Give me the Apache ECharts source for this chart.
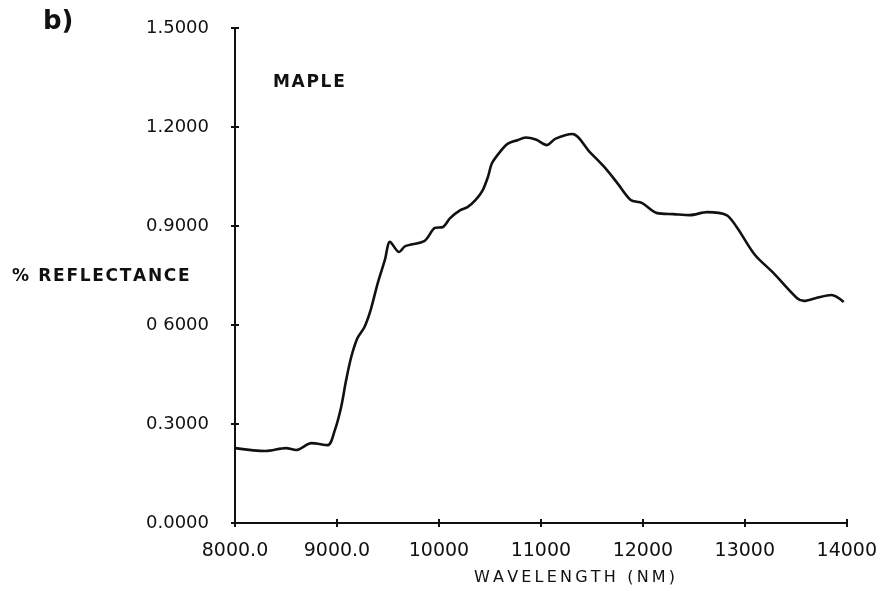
<!DOCTYPE html>
<html>
<head>
<meta charset="utf-8">
<script src="https://cdn.jsdelivr.net/npm/echarts@6/dist/echarts.min.js"></script>
<style>
  html, body { margin: 0; padding: 0; background: #fff; }
  #chart { width: 880px; height: 591px; }
</style>
</head>
<body>
<div id="chart"></div>
<script>
// Maple leaf spectral reflectance, 8000–14000 nm
const wavelength = [
  8000, 8300, 8500, 8600, 8750, 8910, 8980, 9040, 9090, 9140, 9200, 9270, 9330,
  9400, 9470, 9520, 9610, 9670, 9860, 9960, 10040, 10110, 10210, 10280, 10360,
  10430, 10480, 10520, 10590, 10670, 10770, 10850, 10950, 11060, 11140, 11310,
  11480, 11630, 11750, 11880, 11990, 12140, 12300, 12460, 12630, 12820, 12920,
  13100, 13280, 13510, 13580, 13700, 13850, 13970
];
const reflectance = [
  0.227, 0.218, 0.227, 0.221, 0.242, 0.236, 0.282, 0.350, 0.433, 0.503, 0.560, 0.594, 0.645,
  0.727, 0.797, 0.852, 0.821, 0.839, 0.855, 0.894, 0.897, 0.924, 0.948, 0.957, 0.979,
  1.009, 1.048, 1.090, 1.121, 1.148, 1.160, 1.168, 1.162, 1.145, 1.164, 1.179,
  1.124, 1.076, 1.030, 0.979, 0.970, 0.939, 0.936, 0.933, 0.942, 0.933, 0.897,
  0.812, 0.758, 0.682, 0.673, 0.682, 0.691, 0.670
];
const xTickLabels = ['8000.0', '9000.0', '10000', '11000', '12000', '13000', '14000'];
const yTickLabels = ['0.0000', '0.3000', '0 6000', '0.9000', '1.2000', '1.5000'];

const FONT = 'DejaVu Sans';
const ink = '#111';

// open up the lettering of the plotter-style captions
const spaced = (s, gap) => s.split('').join(gap);
const HAIR = '\u200A';
const THIN = '\u2009';

const chart = echarts.init(document.getElementById('chart'), null, { renderer: 'canvas' });

const tickStyle = { color: ink, width: 2 };
const xBase = {
  type: 'value', min: 8000, max: 14000, interval: 1000, position: 'bottom',
  axisLine: { show: true, onZero: false, lineStyle: { color: ink, width: 2 } },
  splitLine: { show: false }
};
const yBase = {
  type: 'value', min: 0, max: 1.5, interval: 0.3, position: 'left',
  axisLine: { show: true, onZero: false, lineStyle: { color: ink, width: 2 } },
  splitLine: { show: false }
};

chart.setOption({
  backgroundColor: '#fff',
  animation: false,
  grid: { left: 235, right: 27, top: 28, bottom: 68 },
  xAxis: [
    Object.assign({}, xBase, {
      axisTick: { show: true, length: 4, lineStyle: tickStyle },
      axisLabel: {
        color: ink, fontFamily: FONT, fontSize: 19, margin: 19,
        formatter: v => xTickLabels[Math.round((v - 8000) / 1000)]
      }
    }),
    Object.assign({}, xBase, {
      axisTick: { show: true, inside: true, length: 4, lineStyle: tickStyle },
      axisLabel: { show: false }
    })
  ],
  yAxis: [
    Object.assign({}, yBase, {
      axisTick: { show: true, length: 4, lineStyle: tickStyle },
      axisLabel: {
        color: ink, fontFamily: FONT, fontSize: 18, margin: 26,
        formatter: v => yTickLabels[Math.round(v / 0.3)]
      }
    }),
    Object.assign({}, yBase, {
      axisTick: { show: true, inside: true, length: 4, lineStyle: tickStyle },
      axisLabel: { show: false }
    })
  ],
  graphic: [
    { type: 'text', left: 43, top: 9,
      style: { text: 'b)', fill: ink, font: 'bold 26px ' + FONT } },
    { type: 'text', left: 273, top: 74,
      style: { text: spaced('MAPLE', HAIR), fill: ink, font: 'bold 17px ' + FONT } },
    { type: 'text', left: 12, top: 268,
      style: { text: spaced('% REFLECTANCE', HAIR), fill: ink, font: 'bold 17px ' + FONT } },
    { type: 'text', left: 474, top: 570,
      style: { text: spaced('WAVELENGTH (NM)', THIN), fill: ink, font: '16px ' + FONT } }
  ],
  series: [{
    type: 'line',
    xAxisIndex: 0, yAxisIndex: 0,
    data: wavelength.map((w, i) => [w, reflectance[i]]),
    showSymbol: false,
    smooth: 0.3,
    lineStyle: { color: ink, width: 2.6 }
  }]
});
</script>
</body>
</html>
